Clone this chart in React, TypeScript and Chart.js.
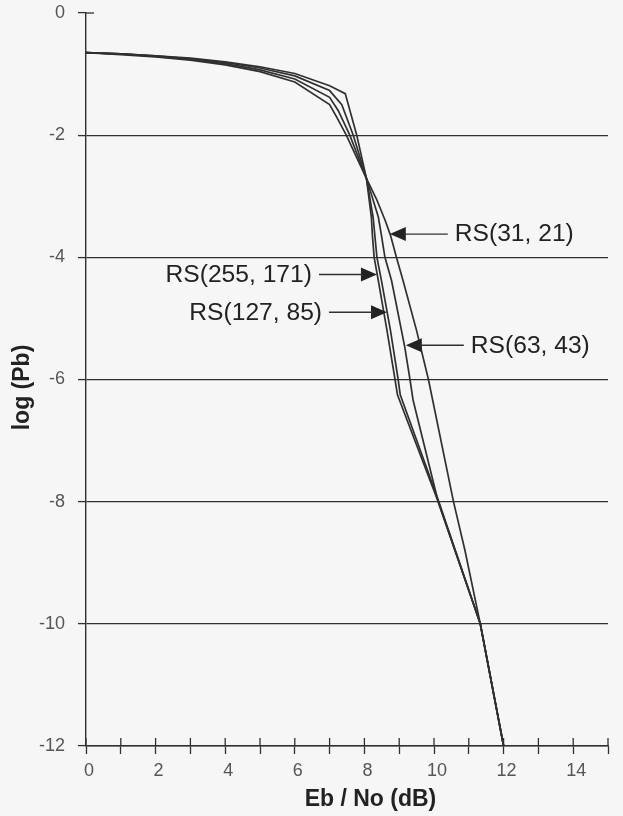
import React, { useEffect, useRef } from 'react';
import { Chart, registerables } from 'chart.js';

Chart.register(...registerables);

// Eb/No (dB) and log(Pb) for each Reed-Solomon code
const ebNo255 = [0, 1, 2, 3, 4, 5, 6, 7, 7.45, 7.78, 8.06, 8.2, 8.23, 8.28, 8.4, 8.65, 8.88, 8.95, 10.12, 11.33, 12];
const logPb255 = [-0.65, -0.67, -0.7, -0.74, -0.8, -0.88, -0.99, -1.19, -1.32, -2.0, -2.71, -3.34, -3.64, -4.0, -4.38, -5.2, -6.0, -6.25, -8.0, -10.0, -12.0];

const ebNo127 = [0, 1, 2, 3, 4, 5, 6, 7, 7.35, 7.68, 8.06, 8.25, 8.3, 8.36, 8.49, 8.75, 8.97, 9.03, 10.14, 11.33, 12];
const logPb127 = [-0.65, -0.67, -0.7, -0.75, -0.81, -0.9, -1.03, -1.27, -1.5, -2.0, -2.71, -3.34, -3.64, -4.0, -4.38, -5.2, -6.0, -6.25, -8.0, -10.0, -12.0];

const ebNo63 = [0, 1, 2, 3, 4, 5, 6, 7, 7.25, 7.58, 8.06, 8.4, 8.49, 8.59, 8.78, 9.16, 9.31, 9.4, 10.12, 11.33, 12];
const logPb63 = [-0.65, -0.67, -0.71, -0.76, -0.83, -0.93, -1.08, -1.38, -1.6, -2.0, -2.71, -3.34, -3.64, -4.0, -4.38, -5.47, -6.0, -6.34, -8.0, -10.0, -12.0];

const ebNo31 = [0, 1, 2, 3, 4, 5, 6, 7, 7.2, 7.48, 8.06, 8.35, 8.6, 8.75, 8.92, 9.11, 9.5, 9.84, 10.56, 10.89, 11.33, 12];
const logPb31 = [-0.65, -0.68, -0.72, -0.77, -0.85, -0.96, -1.13, -1.5, -1.7, -2.0, -2.71, -3.05, -3.4, -3.64, -4.0, -4.38, -5.2, -6.0, -8.0, -8.8, -10.0, -12.0];

// annotation labels and the curve points their arrows touch
const noteLabels = ['RS(31, 21)', 'RS(255, 171)', 'RS(127, 85)', 'RS(63, 43)'];
const noteTipX = [8.73, 8.36, 8.65, 9.19];
const noteTipY = [-3.62, -4.28, -4.9, -5.44];
const noteSide = ['right', 'left', 'left', 'right'];

const xTickValues = [0, 2, 4, 6, 8, 10, 12, 14];
const xTitle = 'Eb / No (dB)';
const yTitle = 'log (Pb)';

const INK = '#303030';
const TICK_FONT = { family: '"Liberation Sans", Arial, sans-serif', size: 18 };

const bgPlugin = {
  id: 'bg',
  beforeDraw(chart: any) {
    const { ctx, width, height } = chart;
    ctx.save();
    ctx.fillStyle = '#f6f6f6';
    ctx.fillRect(0, 0, width, height);
    ctx.restore();
  },
};

const extrasPlugin = {
  id: 'extras',
  afterDraw(chart: any) {
    const { ctx, chartArea, scales } = chart;
    const xs = scales.x;
    const ys = scales.y;
    ctx.save();
    // upward half of x ticks
    ctx.strokeStyle = INK;
    ctx.lineWidth = 1.3;
    xs.ticks.forEach((t: any) => {
      const px = xs.getPixelForValue(t.value);
      ctx.beginPath();
      ctx.moveTo(px, chartArea.bottom - 8);
      ctx.lineTo(px, chartArea.bottom);
      ctx.stroke();
    });
    // right half of tick at top of y axis
    const y0 = ys.getPixelForValue(0);
    ctx.beginPath();
    ctx.moveTo(chartArea.left, y0);
    ctx.lineTo(chartArea.left + 8, y0);
    ctx.stroke();

    // annotations
    ctx.fillStyle = '#222';
    ctx.font = '23px "Liberation Sans", Arial, sans-serif';
    ctx.textBaseline = 'middle';
    noteLabels.forEach((lab, i) => {
      const px = xs.getPixelForValue(noteTipX[i]);
      const py = ys.getPixelForValue(noteTipY[i]);
      const dir = noteSide[i] === 'right' ? 1 : -1;
      ctx.beginPath();
      ctx.moveTo(px, py);
      ctx.lineTo(px + dir * 16, py - 7);
      ctx.lineTo(px + dir * 16, py + 7);
      ctx.closePath();
      ctx.fill();
      ctx.beginPath();
      ctx.lineWidth = 1.4;
      ctx.moveTo(px + dir * 14, py);
      ctx.lineTo(px + dir * 58, py);
      ctx.stroke();
      ctx.save();
      ctx.translate(px + dir * 65, py + 1);
      ctx.scale(1.07, 1);
      ctx.textAlign = dir === 1 ? 'left' : 'right';
      ctx.fillText(lab, 0, 0);
      ctx.restore();
    });

    // axis titles
    ctx.fillStyle = '#222';
    ctx.font = 'bold 23px "Liberation Sans", Arial, sans-serif';
    ctx.textAlign = 'center';
    ctx.textBaseline = 'middle';
    ctx.fillText(xTitle, chartArea.left + (chartArea.right - chartArea.left) * 0.545, 800);
    ctx.translate(23, (chartArea.top + chartArea.bottom) / 2 + 8);
    ctx.rotate(-Math.PI / 2);
    ctx.fillText(yTitle, 0, 0);
    ctx.restore();
  },
};

const mk = (label: string, xs: number[], ys: number[]) => ({
  label,
  data: xs.map((x, i) => ({ x, y: ys[i] })),
  borderColor: INK,
  borderWidth: 1.7,
  pointRadius: 0,
  fill: false,
  tension: 0,
});

export default function App() {
  const ref = useRef<HTMLCanvasElement>(null);
  useEffect(() => {
    const canvas = ref.current!;
    const chart = new Chart(canvas, {
      type: 'line',
      data: {
        datasets: [
          mk('RS(255, 171)', ebNo255, logPb255),
          mk('RS(127, 85)', ebNo127, logPb127),
          mk('RS(63, 43)', ebNo63, logPb63),
          mk('RS(31, 21)', ebNo31, logPb31),
        ],
      },
      options: {
        animation: false,
        responsive: false,
        maintainAspectRatio: false,
        layout: { padding: { top: 13, right: 15, left: 0, bottom: 0 } },
        plugins: { legend: { display: false }, tooltip: { enabled: false } },
        scales: {
          x: {
            type: 'linear',
            min: 0,
            max: 15,
            afterFit: (s: any) => {
              s.height = 70;
              s.paddingLeft = 0;
              s.paddingRight = 0;
            },
            ticks: {
              stepSize: 1,
              autoSkip: false,
              maxRotation: 0,
              padding: 6,
              labelOffset: 3,
              color: '#555',
              font: TICK_FONT,
              callback: (v: any) => (xTickValues.includes(Number(v)) ? String(v) : ''),
            },
            grid: { drawOnChartArea: false, drawTicks: true, tickLength: 8, tickColor: INK, tickWidth: 1.3 },
            border: { display: true, color: INK, width: 1.4 },
          },
          y: {
            type: 'linear',
            min: -12,
            max: 0,
            afterFit: (s: any) => {
              s.width = 86;
              s.paddingTop = 0;
              s.paddingBottom = 0;
            },
            ticks: {
              stepSize: 2,
              padding: 13,
              color: '#555',
              font: TICK_FONT,
              callback: (v: any) => String(v),
            },
            grid: {
              color: (c: any) => (c.tick && c.tick.value === 0 ? 'rgba(0,0,0,0)' : INK),
              lineWidth: 1.2,
              drawTicks: true,
              tickLength: 8,
              tickColor: INK,
              tickWidth: 1.3,
            },
            border: { display: true, color: INK, width: 1.4 },
          },
        },
      },
      plugins: [bgPlugin, extrasPlugin],
    } as any);
    return () => chart.destroy();
  }, []);
  return (
    <div style={{ position: 'fixed', left: 0, top: 0, width: 623, height: 816, background: '#f6f6f6' }}>
      <canvas ref={ref} width={623} height={816} style={{ width: 623, height: 816, display: 'block' }} />
    </div>
  );
}
